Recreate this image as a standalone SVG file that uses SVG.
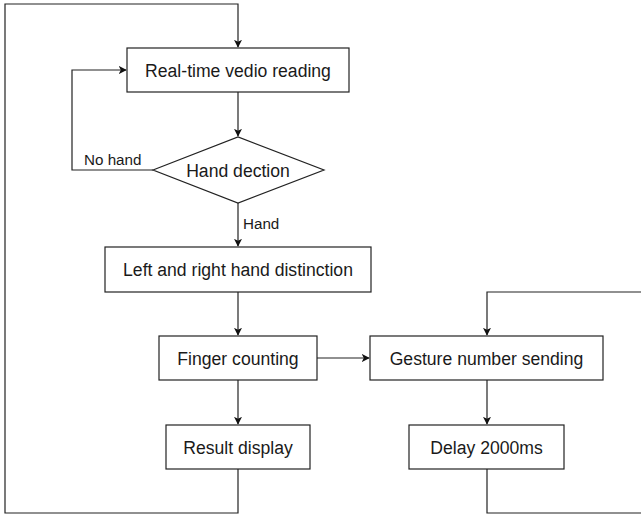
<svg xmlns="http://www.w3.org/2000/svg" width="641" height="517" viewBox="0 0 641 517">
<style>
.box{fill:#fff;stroke:#222;stroke-width:1.2}
.t{font-family:"Liberation Sans",Arial,sans-serif;font-size:17.6px;fill:#1a1a1a;text-anchor:middle}
.l{font-family:"Liberation Sans",Arial,sans-serif;font-size:15.2px;fill:#1a1a1a}
.c{fill:none;stroke:#222;stroke-width:1.2}
</style>
<defs>
<marker id="ah" viewBox="0 0 10 10" refX="9" refY="5" markerWidth="8" markerHeight="8" markerUnits="userSpaceOnUse" orient="auto">
<path d="M0,0 L10,5 L0,10 L2.5,5 z" fill="#111"/>
</marker>
</defs>
<rect width="641" height="517" fill="#fff"/>
<g id="connectors">
<path class="c" d="M238,469 V513 H5 V4 H238 V47" marker-end="url(#ah)"/>
<path class="c" d="M153,170 H72 V70 H126" marker-end="url(#ah)"/>
<path class="c" d="M238,92 V136" marker-end="url(#ah)"/>
<path class="c" d="M238,203 V246" marker-end="url(#ah)"/>
<path class="c" d="M238,292 V335" marker-end="url(#ah)"/>
<path class="c" d="M238,380 V424" marker-end="url(#ah)"/>
<path class="c" d="M317,358 H369" marker-end="url(#ah)"/>
<path class="c" d="M487,380 V424" marker-end="url(#ah)"/>
<path class="c" d="M487,469 V513 H660 V292 H487 V335" marker-end="url(#ah)"/>
<text class="l" x="84" y="165">No hand</text>
<text class="l" x="243" y="229">Hand</text>
</g>
<g id="n1"><rect class="box" x="127" y="48" width="222" height="44"/><text class="t" x="238" y="76.8">Real-time vedio reading</text></g>
<g id="n2"><polygon class="box" points="153,170 238,137 324,170 238,203"/><text class="t" x="238" y="176.5">Hand dection</text></g>
<g id="n3"><rect class="box" x="105" y="247" width="266" height="45"/><text class="t" x="238" y="275.8">Left and right hand distinction</text></g>
<g id="n4"><rect class="box" x="159" y="336" width="158" height="44"/><text class="t" x="238" y="364.5">Finger counting</text></g>
<g id="n5"><rect class="box" x="370" y="336" width="233" height="44"/><text class="t" x="486.5" y="364.5">Gesture number sending</text></g>
<g id="n6"><rect class="box" x="166" y="425" width="144" height="44"/><text class="t" x="238" y="453.5">Result display</text></g>
<g id="n7"><rect class="box" x="409" y="425" width="155" height="44"/><text class="t" x="486.5" y="453.5">Delay 2000ms</text></g>
</svg>
